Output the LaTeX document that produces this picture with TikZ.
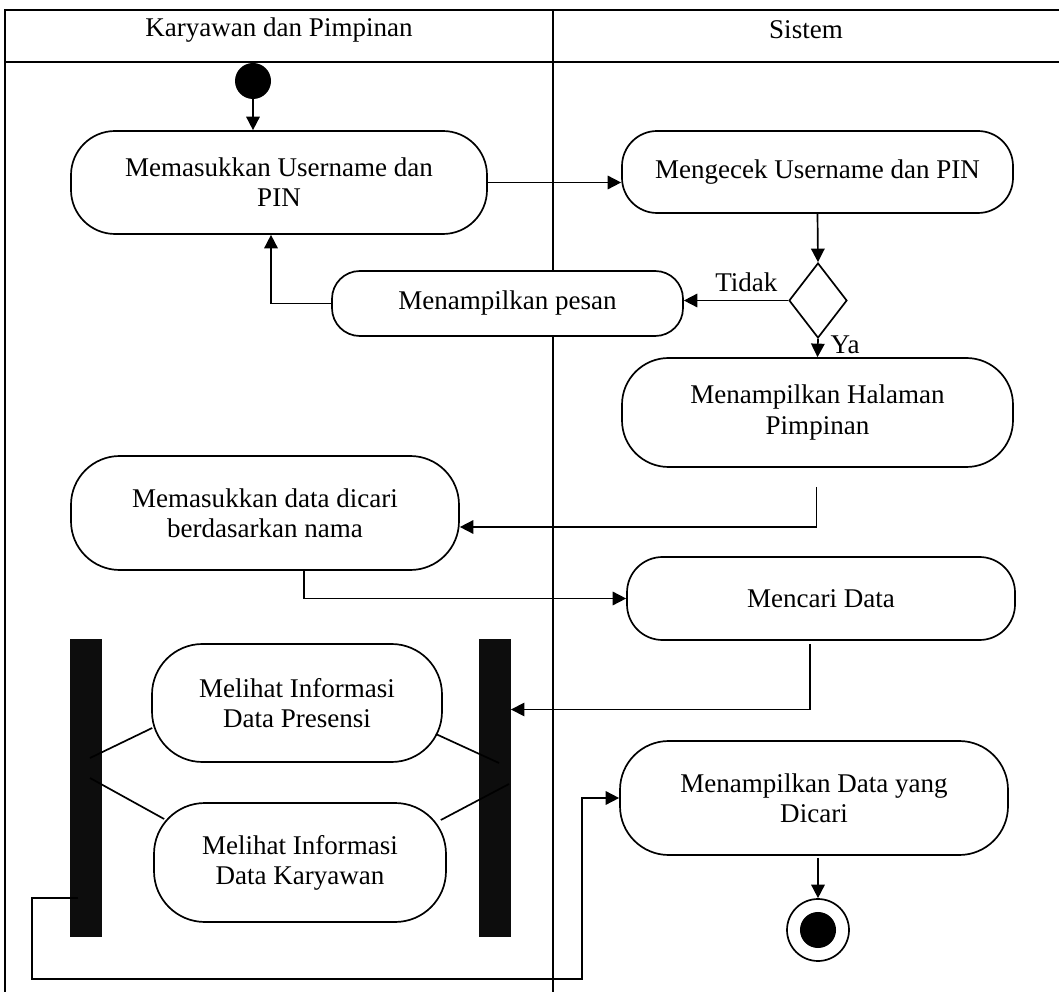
\documentclass[tikz,border=0pt]{standalone}
\usepackage{fontspec}
\setmainfont{Liberation Serif}
\usepackage{tikz}
\usetikzlibrary{shapes.geometric, arrows.meta, positioning, calc}

\begin{document}
\begin{tikzpicture}[x=0.444pt, y=-0.444pt,
    font=\fontsize{12}{13.4}\selectfont,
    act/.style 2 args={draw, fill=white, line width=0.75pt, align=center, inner sep=0pt,
      minimum width=#1*0.444pt, minimum height=#2*0.444pt, rounded corners=#2*0.19pt},
    bar/.style={fill=black!95, draw=black!95, inner sep=0pt, minimum width=31*0.444pt, minimum height=297*0.444pt},
    startnode/.style={circle, fill=black, inner sep=0pt, minimum size=36*0.444pt},
    endnode/.style={circle, draw, line width=0.75pt, inner sep=0pt, minimum size=62*0.444pt,
      path picture={\fill (path picture bounding box.center) circle (8pt);}},
    decision/.style={diamond, draw, fill=white, line width=0.75pt, inner sep=0pt, aspect=0.77,
      minimum width=58*0.444pt, minimum height=75*0.444pt},
    flow/.style={line width=0.75pt, -{Triangle[length=6pt, width=6pt]}},
    link/.style={line width=0.75pt}]

  \useasboundingbox (0,0) rectangle (1059,992);

  % swimlanes
  \draw[line width=0.45pt] (5,992) -- (5,10) -- (1059,10);
  \draw[line width=0.45pt] (5,62) -- (1059,62);
  \draw[line width=0.45pt] (553,10) -- (553,992);
  \node (lane1) at (279,30) {Karyawan dan Pimpinan};
  \node (lane2) at (806,30) {Sistem};

  % login
  \node[startnode] (start) at (253,81) {};
  \node[act={416}{103}] (inputLogin) at (279,182.5) {Memasukkan Username dan\\PIN};
  \node[act={391}{82}] (cekLogin) at (817.5,172) {Mengecek Username dan PIN};
  \node[decision] (valid) at (818,300.5) {};
  \node[act={351}{65}] (pesan) at (507.5,303.5) {Menampilkan pesan};
  \node[act={391}{109}] (halaman) at (817.5,412.5) {Menampilkan Halaman\\Pimpinan};

  % pencarian
  \node[act={388}{114}] (inputCari) at (265,513) {Memasukkan data dicari\\berdasarkan nama};
  \node[act={388}{83}] (cariData) at (821,598.5) {Mencari Data};

  % fork / join
  \node[bar] (barL) at (85.5,787.5) {};
  \node[bar] (barR) at (495,787.5) {};
  \node[act={290}{118}] (lihatPresensi) at (297,703) {Melihat Informasi\\Data Presensi};
  \node[act={292}{119}] (lihatKaryawan) at (300,862.5) {Melihat Informasi\\Data Karyawan};

  % hasil
  \node[act={388}{114}] (tampilData) at (814,798) {Menampilkan Data yang\\Dicari};
  \node[endnode] (finish) at (818,930) {};

  \coordinate (loopL) at (32,979);
  \coordinate (loopR) at (582,979);

  % connectors
  \draw[flow] (start) -- (start |- inputLogin.north);
  \draw[flow] (inputLogin.east) -- (inputLogin.east -| cekLogin.west);
  \draw[flow] (cekLogin.south) -- (valid.north);
  \draw[flow] (valid.west) -- (valid.west -| pesan.east)
    node[above, pos=0.4] (tidak) {Tidak};
  \draw[flow] (pesan.west) -| ($(inputLogin.south)+(-8,0)$);
  \draw[flow] (valid.south) -- (halaman.north)
    node[right, pos=0.3, xshift=2pt] (ya) {Ya};
  \draw[flow] ($(halaman.south)+(-1,19)$) |- ($(inputCari.east)+(0,14)$);
  \draw[flow] ($(inputCari.south)+(39,0)$) |- (cariData.west);
  \draw[flow] ($(cariData.south)+(-11,3)$) |- ($(barR.east)+(0,-78)$);

  \draw[link] ($(barL.center)+(4.5,-29.5)$) -- ($(lihatPresensi.west)+(1,25)$);
  \draw[link] ($(barL.center)+(4.5,-9.5)$) -- ($(lihatKaryawan.west)+(11,-43.5)$);
  \draw[link] ($(lihatPresensi.east)+(-7,31)$) -- ($(barR.center)+(4,-24.5)$);
  \draw[link] ($(lihatKaryawan.east)+(-6,-42.5)$) -- ($(barR.center)+(14,-3.5)$);

  \draw[flow] ($(barL.center)+(-7.5,110.5)$) -| (loopL) -- (loopR) |- (tampilData.west);
  \draw[flow] ($(tampilData.south -| finish.north)+(0,2)$) -- (finish.north);
\end{tikzpicture}
\end{document}
